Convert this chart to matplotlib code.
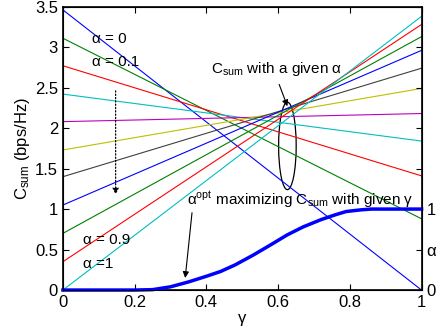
"""
Sum capacity vs gamma for several alpha values, with the optimal alpha curve.
"""
import matplotlib
matplotlib.use("Agg")
import matplotlib.pyplot as plt
from matplotlib.patches import Ellipse

plt.rcParams['font.family'] = ['Liberation Sans', 'DejaVu Sans']
plt.rcParams['mathtext.default'] = 'regular'
plt.rcParams['font.size'] = 11

# Straight lines: C_sum at gamma=0 and gamma=1 for each alpha
alphas = [0, 0.1, 0.2, 0.3, 0.4, 0.5, 0.6, 0.7, 0.8, 0.9, 1.0]
c_start = [3.46, 3.11, 2.77, 2.42, 2.08, 1.73, 1.40, 1.05, 0.70, 0.35, 0.0]
c_end = [0.0, 0.88, 1.41, 1.84, 2.18, 2.49, 2.74, 2.96, 3.13, 3.28, 3.38]
colors = ['#0000ff', '#008000', '#ff0000', '#00bfbf', '#bf00bf', '#bfbf00',
          '#404040', '#0000ff', '#008000', '#ff0000', '#00bfbf']

# alpha_opt vs gamma (right axis)
gamma_opt = [0, 0.1, 0.2, 0.25, 0.3, 0.35, 0.4, 0.44, 0.48, 0.53, 0.58, 0.625,
             0.67, 0.72, 0.76, 0.79, 0.83, 0.86, 0.9, 0.95, 1.0]
alpha_opt = [0, 0, 0, 0.005, 0.04, 0.1, 0.17, 0.23, 0.31, 0.43, 0.56, 0.68,
             0.78, 0.87, 0.93, 0.97, 0.99, 1.0, 1.0, 1.0, 1.0]

fig = plt.figure(figsize=(4.4, 3.33), dpi=100)
ax = fig.add_axes([0.143, 0.129, 0.815, 0.851])

for a, c0, c1, col in zip(alphas, c_start, c_end, colors):
    ax.plot([0, 1], [c0, c1], color=col, lw=0.8)

ax.set_xlim(0, 1)
ax.set_ylim(0, 3.5)
ax.set_xticks([0, 0.2, 0.4, 0.6, 0.8, 1])
ax.set_xticklabels(['0', '0.2', '0.4', '0.6', '0.8', '1'])
ax.set_yticks([0, 0.5, 1, 1.5, 2, 2.5, 3, 3.5])
ax.set_yticklabels(['0', '0.5', '1', '1.5', '2', '2.5', '3', '3.5'])
ax.tick_params(direction='in', top=True, labelsize=12, length=4, width=0.8)
ax.set_xlabel('γ', fontsize=12, labelpad=1)
ax.set_ylabel('C$_{sum}$ (bps/Hz)', fontsize=12, labelpad=2)
for s in ax.spines.values():
    s.set_linewidth(1.2)

ax2 = ax.twinx()
ax2.plot(gamma_opt, alpha_opt, color='#0000ff', lw=2.5, clip_on=False)
ax2.set_ylim(0, 3.5)
ax2.set_yticks([0, 0.5, 1, 1.5, 2, 2.5, 3, 3.5])
ax2.set_yticklabels(['0', 'α', '1', '', '', '', '', ''])
ax2.tick_params(direction='in', labelsize=12, length=4, width=0.8)

# annotations
fs = 11
ax.text(0.081, 3.10, 'α = 0', va='center', fontsize=fs)
ax.text(0.081, 2.82, 'α = 0.1', va='center', fontsize=fs)
ax.text(0.056, 0.62, 'α = 0.9', va='center', fontsize=fs)
ax.text(0.056, 0.32, 'α =1', va='center', fontsize=fs)
ax.text(0.413, 2.73, 'C$_{sum}$ with a given α', va='center', fontsize=fs)
ax.annotate('', xy=(0.626, 2.27), xytext=(0.603, 2.54),
            arrowprops=dict(arrowstyle='-|>', color='k', lw=0.8,
                            mutation_scale=9, shrinkA=0, shrinkB=0))
ax.add_patch(Ellipse((0.626, 1.78), 0.049, 1.08, fill=False, color='k', lw=0.9))
ax.annotate('', xy=(0.147, 1.18), xytext=(0.147, 2.46),
            arrowprops=dict(arrowstyle='-|>', color='k', lw=0.9, ls=':',
                            mutation_scale=9, shrinkA=0, shrinkB=0))
ax.text(0.346, 1.12, 'α$^{opt}$ maximizing C$_{sum}$ with given γ',
        va='center', fontsize=fs)
ax.annotate('', xy=(0.341, 0.149), xytext=(0.360, 0.955),
            arrowprops=dict(arrowstyle='-|>', color='k', lw=0.8,
                            mutation_scale=9, shrinkA=0, shrinkB=0))

fig.savefig('out.png', dpi=100)
